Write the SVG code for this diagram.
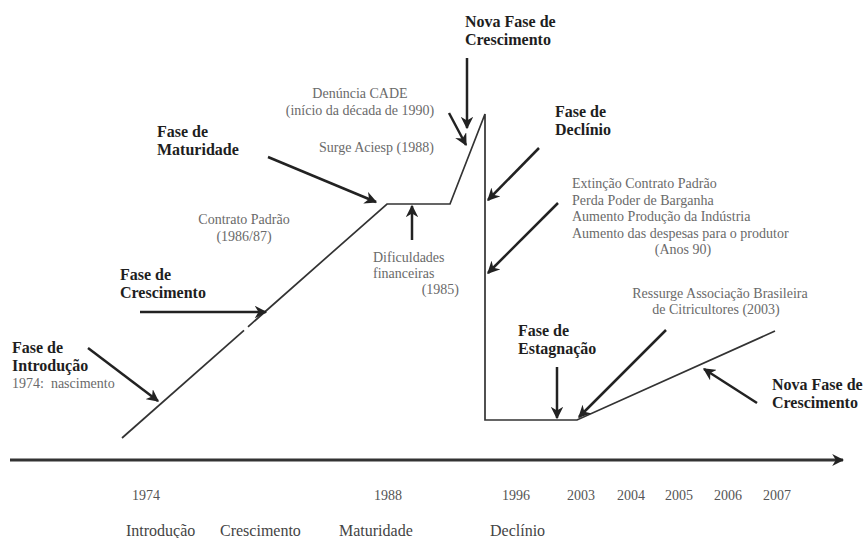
<svg xmlns="http://www.w3.org/2000/svg" width="865" height="538" viewBox="0 0 865 538">
<defs>
<style>
.bold{font-family:"Liberation Serif","Times New Roman",serif;font-weight:bold;font-size:16px;fill:#1e1e1e}
.gray{font-family:"Liberation Serif","Times New Roman",serif;font-size:14px;fill:#6a6a6a}
.year{font-family:"Liberation Serif","Times New Roman",serif;font-size:14px;fill:#555}
.phase{font-family:"Liberation Serif","Times New Roman",serif;font-size:16px;fill:#444}
.curve{fill:none;stroke:#333;stroke-width:1.7;stroke-linejoin:miter}
.arr{fill:none;stroke:#222;stroke-width:2.5;marker-end:url(#ah)}
.axis{fill:none;stroke:#333;stroke-width:3;marker-end:url(#ah2)}
</style>
<marker id="ah" viewBox="0 0 10 10" refX="9" refY="5" markerWidth="5" markerHeight="5" orient="auto" markerUnits="strokeWidth">
<path d="M0,0 L10,5 L0,10 L3,5 Z" fill="#222"/>
</marker>
<marker id="ah2" viewBox="0 0 10 10" refX="9" refY="5" markerWidth="4" markerHeight="4" orient="auto" markerUnits="strokeWidth">
<path d="M0,0 L10,5 L0,10 L3,5 Z" fill="#222"/>
</marker>
</defs>
<rect width="865" height="538" fill="#fff"/>

<g id="curve">
<polyline class="curve" points="122,438 244,330.3"/>
<polyline class="curve" points="248,326.8 387,204 450,204 485,114 485,420 577,420 775,331"/>
</g>

<g id="axis">
<line class="axis" x1="10" y1="460" x2="843" y2="460"/>
</g>

<g id="connectors">
<line class="arr" x1="467" y1="58" x2="467" y2="128"/>
<line class="arr" x1="449" y1="113" x2="466" y2="145"/>
<line class="arr" x1="268" y1="157" x2="376" y2="202"/>
<line class="arr" x1="140" y1="312" x2="266" y2="312"/>
<line class="arr" x1="88" y1="348" x2="158" y2="401"/>
<line class="arr" x1="412" y1="240" x2="412" y2="206"/>
<line class="arr" x1="539" y1="148" x2="488" y2="200"/>
<line class="arr" x1="558" y1="203" x2="488" y2="273"/>
<line class="arr" x1="557" y1="367" x2="557" y2="418"/>
<line class="arr" x1="666" y1="330" x2="579" y2="417"/>
<line class="arr" x1="757" y1="403" x2="704" y2="369"/>
</g>

<g id="nova-fase-top">
<text class="bold" x="465" y="27">Nova Fase de</text>
<text class="bold" x="465" y="45">Crescimento</text>
</g>
<g id="fase-maturidade">
<text class="bold" x="157" y="137">Fase de</text>
<text class="bold" x="157" y="155">Maturidade</text>
</g>
<g id="fase-crescimento">
<text class="bold" x="120" y="280">Fase de</text>
<text class="bold" x="120" y="298">Crescimento</text>
</g>
<g id="fase-introducao">
<text class="bold" x="12" y="353">Fase de</text>
<text class="bold" x="12" y="371">Introdução</text>
<text class="gray" x="12" y="388" xml:space="preserve" style="white-space:pre">1974:  nascimento</text>
</g>
<g id="fase-declinio">
<text class="bold" x="555" y="117">Fase de</text>
<text class="bold" x="555" y="135">Declínio</text>
</g>
<g id="fase-estagnacao">
<text class="bold" x="518" y="336">Fase de</text>
<text class="bold" x="518" y="354">Estagnação</text>
</g>
<g id="nova-fase-bottom">
<text class="bold" x="772" y="390">Nova Fase de</text>
<text class="bold" x="772" y="408">Crescimento</text>
</g>

<g id="denuncia">
<text class="gray" x="360" y="98" text-anchor="middle">Denúncia CADE</text>
<text class="gray" x="360" y="115" text-anchor="middle">(início da década de 1990)</text>
</g>
<g id="aciesp">
<text class="gray" x="319" y="152">Surge Aciesp (1988)</text>
</g>
<g id="contrato">
<text class="gray" x="244" y="224" text-anchor="middle">Contrato Padrão</text>
<text class="gray" x="244" y="241" text-anchor="middle">(1986/87)</text>
</g>
<g id="dificuldades">
<text class="gray" x="373" y="262">Dificuldades</text>
<text class="gray" x="373" y="278">financeiras</text>
<text class="gray" x="459" y="294" text-anchor="end">(1985)</text>
</g>
<g id="extincao">
<text class="gray" x="572" y="188">Extinção Contrato Padrão</text>
<text class="gray" x="572" y="205">Perda Poder de Barganha</text>
<text class="gray" x="572" y="221">Aumento Produção da Indústria</text>
<text class="gray" x="572" y="238">Aumento das despesas para o produtor</text>
<text class="gray" x="683" y="254" text-anchor="middle">(Anos 90)</text>
</g>
<g id="ressurge">
<text class="gray" x="720" y="298" text-anchor="middle">Ressurge Associação Brasileira</text>
<text class="gray" x="716" y="314" text-anchor="middle">de Citricultores (2003)</text>
</g>

<g id="years">
<text class="year" x="146" y="500" text-anchor="middle">1974</text>
<text class="year" x="388" y="500" text-anchor="middle">1988</text>
<text class="year" x="516" y="500" text-anchor="middle">1996</text>
<text class="year" x="581" y="500" text-anchor="middle">2003</text>
<text class="year" x="631" y="500" text-anchor="middle">2004</text>
<text class="year" x="679" y="500" text-anchor="middle">2005</text>
<text class="year" x="728" y="500" text-anchor="middle">2006</text>
<text class="year" x="777" y="500" text-anchor="middle">2007</text>
</g>
<g id="phases">
<text class="phase" x="126" y="536">Introdução</text>
<text class="phase" x="220" y="536">Crescimento</text>
<text class="phase" x="339" y="536">Maturidade</text>
<text class="phase" x="490" y="536">Declínio</text>
</g>
</svg>
